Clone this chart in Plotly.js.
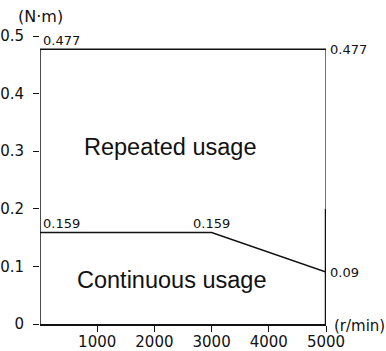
<!DOCTYPE html>
<html><head><meta charset="utf-8">
<script src="https://cdn.plot.ly/plotly-3.0.1.min.js"></script>
<style>html,body{margin:0;padding:0;background:#fff}#chart{width:386px;height:351px}</style>
</head><body><div id="chart"></div>
<script>
// Data
const speed = [0, 3000, 5000];               // r/min
const continuousTorque = [0.159, 0.159, 0.09]; // N·m
const repeatedSpeed = [0, 5000];
const repeatedTorque = [0.477, 0.477];
const xTicks = [1000, 2000, 3000, 4000, 5000];
const yTicks = [0, 0.1, 0.2, 0.3, 0.4, 0.5];
const yTickText = ['0', '0.1', '0.2', '0.3', '0.4', '0.5'];

const black = '#111';
const dv = 'DejaVu Sans, sans-serif';
const lb = 'Liberation Sans, Arial, sans-serif';
const traces = [
  {x: speed, y: continuousTorque, mode: 'lines', line: {color: black, width: 1.5}, hoverinfo: 'skip'},
  {x: repeatedSpeed, y: repeatedTorque, mode: 'lines', line: {color: black, width: 1.5}, hoverinfo: 'skip'},
  // left boundary
  {x: [0, 0], y: [0, repeatedTorque[0]], mode: 'lines', line: {color: black, width: 1.5}, hoverinfo: 'skip'},
  // right boundary (upper thin, lower thick)
  {x: [5000, 5000], y: [repeatedTorque[1], 0.2], mode: 'lines', line: {color: black, width: 1.2}, hoverinfo: 'skip'},
  {x: [5000, 5000], y: [0.2, 0], mode: 'lines', line: {color: black, width: 2.5}, hoverinfo: 'skip'}
];

const lab = {family: dv, size: 13, color: black};
const big = {family: lb, size: 23.5, color: black};
const annotations = [
  {x: 0, y: repeatedTorque[0], text: '0.477', xanchor: 'left', yanchor: 'bottom', xshift: 1, yshift: -1, showarrow: false, font: lab},
  {x: 5000, y: repeatedTorque[1], text: '0.477', xanchor: 'left', yanchor: 'middle', xshift: 2, showarrow: false, font: lab},
  {x: 0, y: continuousTorque[0], text: '0.159', xanchor: 'left', yanchor: 'bottom', xshift: 1, yshift: -1, showarrow: false, font: lab},
  {x: 3000, y: continuousTorque[1], text: '0.159', xanchor: 'center', yanchor: 'bottom', xshift: 0, yshift: -1, showarrow: false, font: lab},
  {x: 5000, y: continuousTorque[2], text: '0.09', xanchor: 'left', yanchor: 'middle', xshift: 2, showarrow: false, font: lab},
  {x: 2277, y: 0.307, text: 'Repeated usage', xanchor: 'center', yanchor: 'middle', showarrow: false, font: big},
  {x: 2295, y: 0.076, text: 'Continuous usage', xanchor: 'center', yanchor: 'middle', showarrow: false, font: big},
  {xref: 'paper', yref: 'paper', x: 0, y: 1.0, text: '(N·m)', xanchor: 'center', yanchor: 'middle', yshift: 20, showarrow: false, font: {family: dv, size: 16, color: black}},
  {xref: 'paper', yref: 'paper', x: 1.0, y: 0, text: '(r/min)', xanchor: 'left', yanchor: 'middle', xshift: 6, yshift: -2, showarrow: false, font: {family: dv, size: 15, color: black}}
];

const layout = {
  width: 386, height: 351,
  margin: {l: 39.5, r: 60, t: 35.5, b: 27, pad: 0},
  paper_bgcolor: '#fff', plot_bgcolor: '#fff',
  showlegend: false,
  font: {family: dv, size: 15, color: black},
  xaxis: {
    range: [0, 5000], tickvals: xTicks, ticktext: xTicks.map(String),
    ticks: 'outside', ticklen: 6, tickcolor: black, tickwidth: 1,
    showline: true, linecolor: black, linewidth: 1.5, showgrid: false, zeroline: false,
    tickfont: {family: dv, size: 15, color: black}, ticklabelstandoff: -3
  },
  yaxis: {
    range: [0, 0.5], tickvals: yTicks, ticktext: yTickText,
    ticks: 'outside', ticklen: 6, tickcolor: black, tickwidth: 1,
    showline: false, showgrid: false, zeroline: false,
    tickfont: {family: dv, size: 15, color: black}, ticklabelstandoff: 6
  },
  annotations: annotations
};

Plotly.newPlot('chart', traces, layout, {staticPlot: true, displayModeBar: false});
</script></body></html>
